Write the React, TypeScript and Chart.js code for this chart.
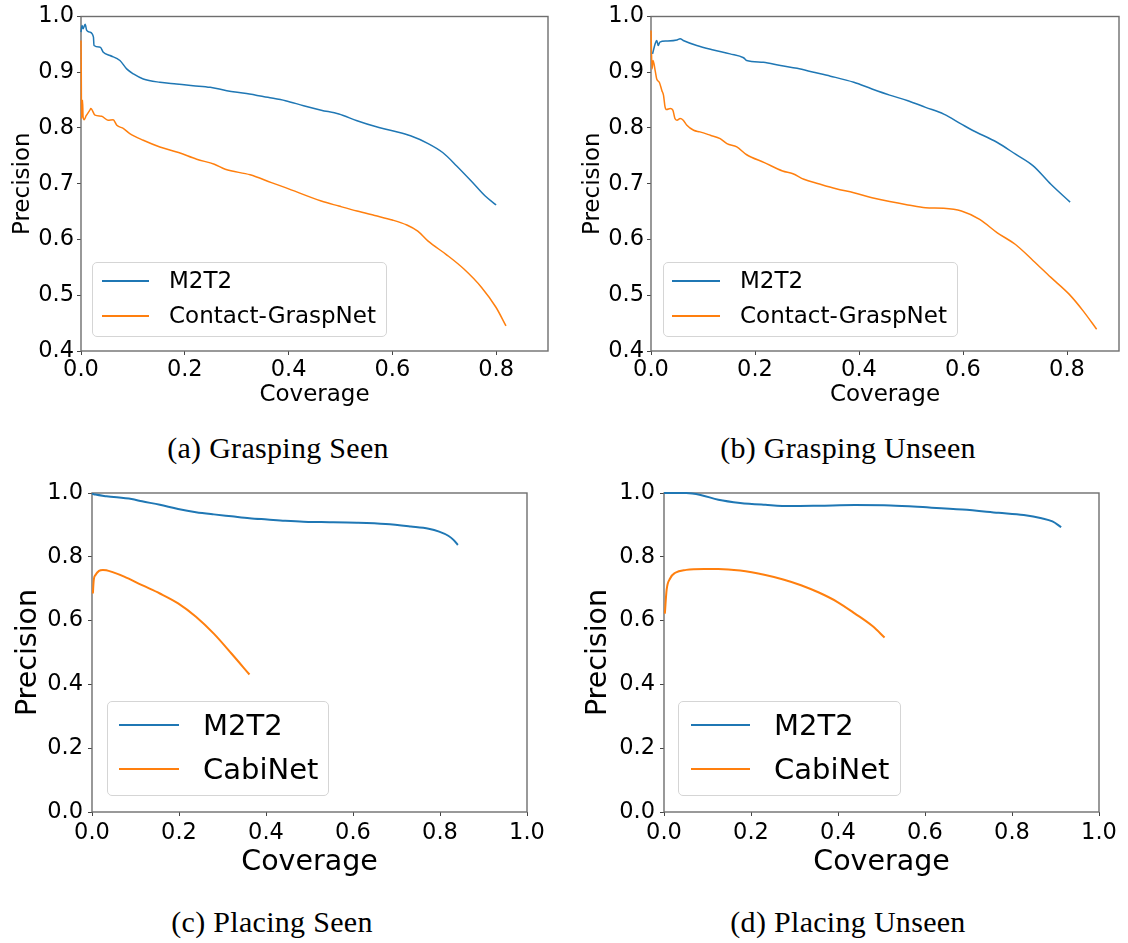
import React, { useEffect, useRef } from "react";
import { Chart, registerables } from "chart.js";

Chart.register(...registerables);

// ---------- Data ----------
// (a) Grasping Seen
const aM2T2Cov = [0, 0.002, 0.004, 0.008, 0.011, 0.017, 0.024, 0.025, 0.037, 0.043, 0.056, 0.075, 0.088, 0.101, 0.12, 0.152, 0.184, 0.216, 0.249, 0.281, 0.319, 0.36, 0.394, 0.429, 0.463, 0.497, 0.532, 0.566, 0.6, 0.635, 0.669, 0.697, 0.724, 0.752, 0.779, 0.8];
const aM2T2Prec = [0.972, 0.984, 0.978, 0.986, 0.975, 0.972, 0.963, 0.948, 0.945, 0.936, 0.93, 0.921, 0.906, 0.897, 0.888, 0.882, 0.879, 0.876, 0.873, 0.867, 0.862, 0.855, 0.849, 0.84, 0.832, 0.825, 0.813, 0.803, 0.795, 0.786, 0.772, 0.756, 0.732, 0.705, 0.678, 0.662];
const aCgnCov = [0, 0.0005, 0.001, 0.002, 0.003, 0.004, 0.006, 0.01, 0.017, 0.019, 0.027, 0.04, 0.052, 0.062, 0.069, 0.082, 0.094, 0.12, 0.152, 0.188, 0.223, 0.257, 0.278, 0.326, 0.367, 0.394, 0.463, 0.497, 0.532, 0.566, 0.6, 0.628, 0.649, 0.669, 0.704, 0.738, 0.772, 0.8, 0.819];
const aCgnPrec = [0.957, 0.9, 0.817, 0.83, 0.85, 0.82, 0.815, 0.822, 0.832, 0.835, 0.823, 0.821, 0.814, 0.815, 0.805, 0.799, 0.79, 0.778, 0.766, 0.756, 0.744, 0.735, 0.726, 0.716, 0.702, 0.693, 0.669, 0.66, 0.651, 0.643, 0.635, 0.626, 0.615, 0.597, 0.573, 0.547, 0.514, 0.478, 0.445];

// (b) Grasping Unseen
const bM2T2Cov = [0.003, 0.008, 0.011, 0.014, 0.017, 0.03, 0.05, 0.056, 0.062, 0.088, 0.12, 0.152, 0.178, 0.184, 0.216, 0.249, 0.281, 0.313, 0.345, 0.39, 0.425, 0.459, 0.494, 0.528, 0.563, 0.597, 0.618, 0.666, 0.701, 0.735, 0.769, 0.806];
const bM2T2Prec = [0.933, 0.951, 0.957, 0.948, 0.954, 0.956, 0.958, 0.96, 0.957, 0.948, 0.94, 0.933, 0.926, 0.921, 0.918, 0.912, 0.907, 0.9, 0.893, 0.882, 0.87, 0.859, 0.849, 0.837, 0.825, 0.807, 0.796, 0.774, 0.753, 0.732, 0.699, 0.667];
const bCgnCov = [0, 0.002, 0.004, 0.008, 0.011, 0.016, 0.021, 0.024, 0.027, 0.03, 0.037, 0.042, 0.046, 0.05, 0.056, 0.062, 0.069, 0.082, 0.094, 0.114, 0.133, 0.146, 0.165, 0.184, 0.218, 0.253, 0.273, 0.294, 0.322, 0.356, 0.39, 0.425, 0.459, 0.494, 0.528, 0.563, 0.597, 0.632, 0.666, 0.701, 0.735, 0.769, 0.804, 0.831, 0.857];
const bCgnPrec = [0.975, 0.906, 0.921, 0.903, 0.888, 0.882, 0.867, 0.859, 0.838, 0.833, 0.835, 0.832, 0.817, 0.814, 0.817, 0.814, 0.805, 0.796, 0.793, 0.787, 0.781, 0.772, 0.766, 0.752, 0.738, 0.723, 0.718, 0.708, 0.7, 0.691, 0.684, 0.675, 0.668, 0.662, 0.657, 0.656, 0.651, 0.636, 0.612, 0.591, 0.562, 0.532, 0.502, 0.472, 0.439];

// (c) Placing Seen
const cM2T2Cov = [0, 0.008, 0.033, 0.091, 0.115, 0.156, 0.198, 0.239, 0.28, 0.321, 0.362, 0.403, 0.444, 0.486, 0.527, 0.609, 0.675, 0.733, 0.774, 0.798, 0.819, 0.831, 0.841];
const cM2T2Prec = [0.998, 0.995, 0.99, 0.981, 0.974, 0.963, 0.95, 0.94, 0.933, 0.927, 0.921, 0.917, 0.913, 0.91, 0.909, 0.907, 0.903, 0.895, 0.888, 0.879, 0.866, 0.853, 0.837];
const cCabCov = [0.002, 0.004, 0.008, 0.016, 0.025, 0.033, 0.049, 0.074, 0.115, 0.156, 0.198, 0.239, 0.28, 0.321, 0.362];
const cCabPrec = [0.685, 0.727, 0.743, 0.756, 0.759, 0.758, 0.751, 0.738, 0.711, 0.685, 0.654, 0.612, 0.559, 0.496, 0.431];

// (d) Placing Unseen
const dM2T2Cov = [0, 0.051, 0.084, 0.125, 0.175, 0.233, 0.29, 0.356, 0.439, 0.521, 0.604, 0.686, 0.769, 0.827, 0.868, 0.893, 0.913];
const dM2T2Prec = [1.0, 1.0, 0.994, 0.979, 0.969, 0.963, 0.959, 0.96, 0.962, 0.961, 0.955, 0.948, 0.938, 0.931, 0.921, 0.911, 0.893];
const dCabCov = [0.002, 0.006, 0.014, 0.026, 0.051, 0.092, 0.125, 0.175, 0.233, 0.274, 0.315, 0.356, 0.398, 0.439, 0.48, 0.507];
const dCabPrec = [0.622, 0.696, 0.732, 0.75, 0.759, 0.762, 0.762, 0.757, 0.743, 0.729, 0.711, 0.688, 0.659, 0.622, 0.582, 0.547];

const xTitle = "Coverage";
const yTitle = "Precision";
const BLUE = "#1f77b4";
const ORANGE = "#ff7f0e";
const SANS = "'DejaVu Sans', sans-serif";
const SERIF = "'Liberation Serif', serif";

type Series = { label: string; color: string; xs: number[]; ys: number[] };
type Panel = {
  caption: string;
  left: number; top: number; width: number; height: number;
  area: { left: number; top: number; right: number; bottom: number };
  xMax: number; yMin: number; yMax: number; xStep: number; yStep: number;
  tickSize: number; titleSize: number;
  yTitlePad: number; xTitlePad: number; yTickPad: number; xTickPad: number;
  lineWidth: number;
  series: Series[];
  legend: { left: number; top: number; width: number; height: number; rows: number[]; lineL: number; lineW: number; textL: number; font: number };
  captionX: number; captionY: number;
};

const panels: Panel[] = [
  {
    caption: "(a) Grasping Seen",
    left: 0, top: 0, width: 564, height: 420,
    area: { left: 81, top: 16, right: 548, bottom: 351 },
    xMax: 0.9, yMin: 0.4, yMax: 1.0, xStep: 0.2, yStep: 0.1,
    tickSize: 22.5, titleSize: 23,
    yTitlePad: 9, xTitlePad: 11, yTickPad: 3, xTickPad: 2,
    lineWidth: 1.5,
    series: [
      { label: "M2T2", color: BLUE, xs: aM2T2Cov, ys: aM2T2Prec },
      { label: "Contact-GraspNet", color: ORANGE, xs: aCgnCov, ys: aCgnPrec },
    ],
    legend: { left: 92, top: 262, width: 295, height: 75, rows: [18, 53], lineL: 9, lineW: 47, textL: 76, font: 23 },
    captionX: 278, captionY: 448,
  },
  {
    caption: "(b) Grasping Unseen",
    left: 564, top: 0, width: 564, height: 420,
    area: { left: 87, top: 16, right: 555, bottom: 351 },
    xMax: 0.9, yMin: 0.4, yMax: 1.0, xStep: 0.2, yStep: 0.1,
    tickSize: 22.5, titleSize: 23,
    yTitlePad: 15, xTitlePad: 11, yTickPad: 3, xTickPad: 2,
    lineWidth: 1.5,
    series: [
      { label: "M2T2", color: BLUE, xs: bM2T2Cov, ys: bM2T2Prec },
      { label: "Contact-GraspNet", color: ORANGE, xs: bCgnCov, ys: bCgnPrec },
    ],
    legend: { left: 663, top: 262, width: 295, height: 75, rows: [18, 53], lineL: 8, lineW: 48, textL: 76, font: 23 },
    captionX: 848, captionY: 448,
  },
  {
    caption: "(c) Placing Seen",
    left: 0, top: 470, width: 564, height: 430,
    area: { left: 92, top: 23, right: 527, bottom: 342 },
    xMax: 1.0, yMin: 0, yMax: 1.0, xStep: 0.2, yStep: 0.2,
    tickSize: 22.5, titleSize: 28.5,
    yTitlePad: 11, xTitlePad: 20, yTickPad: 5, xTickPad: 4,
    lineWidth: 2,
    series: [
      { label: "M2T2", color: BLUE, xs: cM2T2Cov, ys: cM2T2Prec },
      { label: "CabiNet", color: ORANGE, xs: cCabCov, ys: cCabPrec },
    ],
    legend: { left: 107, top: 701, width: 222, height: 95, rows: [23, 67], lineL: 11, lineW: 60, textL: 95, font: 29 },
    captionX: 272, captionY: 922,
  },
  {
    caption: "(d) Placing Unseen",
    left: 564, top: 470, width: 564, height: 430,
    area: { left: 100, top: 23, right: 535, bottom: 342 },
    xMax: 1.0, yMin: 0, yMax: 1.0, xStep: 0.2, yStep: 0.2,
    tickSize: 22.5, titleSize: 28.5,
    yTitlePad: 17, xTitlePad: 20, yTickPad: 5, xTickPad: 4,
    lineWidth: 2,
    series: [
      { label: "M2T2", color: BLUE, xs: dM2T2Cov, ys: dM2T2Prec },
      { label: "CabiNet", color: ORANGE, xs: dCabCov, ys: dCabPrec },
    ],
    legend: { left: 678, top: 701, width: 223, height: 95, rows: [23, 67], lineL: 12, lineW: 59, textL: 95, font: 29 },
    captionX: 848, captionY: 922,
  },
];

const framePlugin = {
  id: "frame",
  beforeDatasetsDraw(chart: any) {
    const { ctx, chartArea } = chart;
    const { left, top, right, bottom } = chartArea;
    ctx.save();
    ctx.strokeStyle = "#6e6e6e";
    ctx.lineWidth = 1.4;
    ctx.strokeRect(left, top, right - left, bottom - top);
    ctx.restore();
  },
};

function PanelChart({ p }: { p: Panel }) {
  const ref = useRef<HTMLCanvasElement | null>(null);
  useEffect(() => {
    if (!ref.current) return;
    const chart = new Chart(ref.current, {
      type: "scatter",
      data: {
        datasets: p.series.map((s) => ({
          label: s.label,
          data: s.xs.map((x, i) => ({ x, y: s.ys[i] })),
          borderColor: s.color,
          backgroundColor: s.color,
          borderWidth: p.lineWidth,
          pointRadius: 0,
          showLine: true,
          cubicInterpolationMode: "monotone",
          fill: false,
          clip: false,
        })),
      },
      options: {
        animation: false,
        responsive: false,
        devicePixelRatio: 1,
        events: [],
        layout: {
          padding: { left: 0, top: p.area.top, right: p.width - p.area.right, bottom: 0 },
        },
        plugins: { legend: { display: false }, tooltip: { enabled: false } },
        scales: {
          x: {
            type: "linear",
            min: 0,
            max: p.xMax,
            ticks: {
              stepSize: p.xStep,
              includeBounds: false,
              autoSkip: false,
              maxRotation: 0,
              padding: p.xTickPad,
              color: "#000",
              font: { family: SANS, size: p.tickSize },
              callback: (v: any) => Number(v).toFixed(1),
            },
            grid: { drawOnChartArea: false, drawTicks: true, tickLength: 4, color: "#444" },
            border: { display: false },
            title: {
              display: true,
              text: xTitle,
              color: "#000",
              font: { family: SANS, size: p.titleSize },
              padding: { top: 0, bottom: p.xTitlePad },
            },
            afterFit: (s: any) => {
              s.height = p.height - p.area.bottom;
            },
          },
          y: {
            type: "linear",
            min: p.yMin,
            max: p.yMax,
            ticks: {
              stepSize: p.yStep,
              includeBounds: false,
              autoSkip: false,
              padding: p.yTickPad,
              color: "#000",
              font: { family: SANS, size: p.tickSize },
              callback: (v: any) => Number(v).toFixed(1),
            },
            grid: { drawOnChartArea: false, drawTicks: true, tickLength: 4, color: "#444" },
            border: { display: false },
            title: {
              display: true,
              text: yTitle,
              color: "#000",
              font: { family: SANS, size: p.titleSize },
              padding: { top: p.yTitlePad, bottom: 0 },
            },
            afterFit: (s: any) => {
              s.width = p.area.left;
            },
          },
        },
      },
      plugins: [framePlugin],
    } as any);
    return () => chart.destroy();
  }, [p]);

  const lg = p.legend;
  return (
    <>
      <canvas
        ref={ref}
        width={p.width}
        height={p.height}
        style={{ position: "absolute", left: p.left, top: p.top, width: p.width, height: p.height, display: "block" }}
      />
      <div
        style={{
          position: "absolute",
          left: lg.left,
          top: lg.top,
          width: lg.width,
          height: lg.height,
          boxSizing: "border-box",
          border: "1.5px solid #d5d5d5",
          borderRadius: 5,
          background: "rgba(255,255,255,0.8)",
        }}
      >
        {p.series.map((s, i) => (
          <div key={s.label}>
            <div
              style={{
                position: "absolute",
                left: lg.lineL,
                top: Math.round(lg.rows[i] - 1),
                width: lg.lineW,
                height: 2,
                background: s.color,
              }}
            />
            <div
              style={{
                position: "absolute",
                left: lg.textL,
                top: lg.rows[i] - lg.font * 0.6,
                height: lg.font * 1.2,
                lineHeight: `${lg.font * 1.2}px`,
                fontFamily: SANS,
                fontSize: lg.font,
                color: "#000",
                whiteSpace: "nowrap",
              }}
            >
              {s.label}
            </div>
          </div>
        ))}
      </div>
      <div
        style={{
          position: "absolute",
          left: p.captionX - 200,
          width: 400,
          top: p.captionY - 18,
          height: 36,
          lineHeight: "36px",
          textAlign: "center",
          fontFamily: SERIF,
          fontSize: 30,
          letterSpacing: 0.3,
          color: "#000",
          whiteSpace: "nowrap",
        }}
      >
        {p.caption}
      </div>
    </>
  );
}

export default function App() {
  return (
    <div style={{ position: "absolute", left: 0, top: 0, width: 1128, height: 943, background: "#fff", overflow: "hidden" }}>
      {panels.map((p) => (
        <PanelChart key={p.caption} p={p} />
      ))}
    </div>
  );
}
